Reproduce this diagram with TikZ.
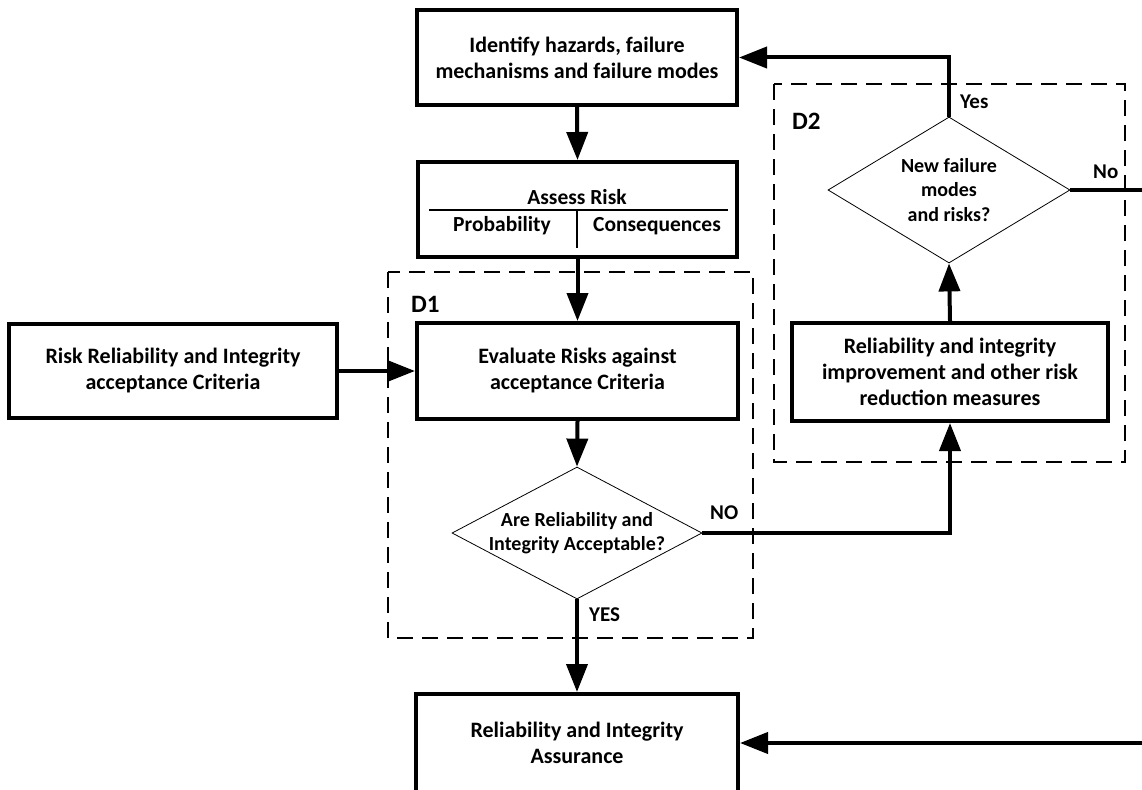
\documentclass[tikz,border=0pt]{standalone}
\usepackage{fontspec}
\setmainfont{Carlito}
\usetikzlibrary{shapes.geometric,arrows.meta,shadows}
\tikzset{
  x=1pt, y=-1pt,
  proc/.style={draw, line width=4pt, fill=white, align=center, inner sep=0pt,
    font=\fontsize{22}{26}\selectfont\bfseries,
    drop shadow={shadow xshift=2pt, shadow yshift=-2pt, fill=black, opacity=0.18}},
  dia/.style={draw, diamond, line width=0.8pt, fill=white, inner sep=0pt},
  diatext/.style={align=center, inner sep=0pt, font=\fontsize{20}{24.5}\selectfont\bfseries},
  flow/.style={line width=4pt, -{Triangle[length=28pt, width=21pt]}},
  group/.style={draw, line width=2.6pt, dash pattern=on 16pt off 9pt},
  tag/.style={font=\fontsize{21}{24}\selectfont\bfseries, inner sep=0pt},
  grouptag/.style={font=\fontsize{25}{28}\selectfont\bfseries, inner sep=0pt},
  celltext/.style={font=\fontsize{21.5}{24}\selectfont\bfseries, inner sep=0pt}
}
\begin{document}
\begin{tikzpicture}
\useasboundingbox (0,0) rectangle (1142,789);
\clip (0,0) rectangle (1142,789);

% dashed groupings
\draw[group] (388,272) rectangle (753,638);
\draw[group] (774,84) rectangle (1125,462);
\node[grouptag, anchor=west] (d1lab) at (411,304) {D1};
\node[grouptag, anchor=west] (d2lab) at (792,121) {D2};

% process boxes
\node[proc, minimum width=320pt, minimum height=95pt] (ident) at (577,57.5)
  {Identify hazards, failure\\mechanisms and failure modes};
\node[proc, minimum width=319pt, minimum height=95pt] (assess) at (577.5,209.5) {};
\node[proc, minimum width=328pt, minimum height=94pt] (crit) at (173,371)
  {Risk Reliability and Integrity\\acceptance Criteria};
\node[proc, minimum width=321pt, minimum height=96pt] (evalr) at (577.5,371)
  {Evaluate Risks against\\acceptance Criteria};
\node[proc, minimum width=316pt, minimum height=98pt] (improve) at (950,372)
  {Reliability and integrity\\improvement and other risk\\reduction measures};
\node[proc, minimum width=322pt, minimum height=98pt] (assure) at (577,743)
  {Reliability and Integrity\\Assurance};

% table inside the risk assessment box
\node[celltext] (assesst) at (577,197) {Assess Risk};
\node[celltext] (prob) at (502,226) {Probability};
\node[celltext] (cons) at (657,226) {Consequences};
\draw[line width=1.6pt] (429,210) -- (728,210);
\draw[line width=1.6pt] (577,210) -- (577,248);

% decisions
\node[dia, minimum width=250pt, minimum height=132pt] (dec1) at (577,533) {};
\node[diatext] (dec1t) at (dec1) {Are Reliability and\\Integrity Acceptable?};
\node[dia, minimum width=242pt, minimum height=146pt] (dec2) at (949,190) {};
\node[diatext] (dec2t) at (dec2) {New failure\\modes\\and risks?};

% connectors
\draw[flow] (ident.south) -- (assess.north);
\draw[flow] (assess.south) -- (evalr.north);
\draw[flow] (crit.east) -- (evalr.west);
\draw[flow] (evalr.south) -- (dec1.north);
\draw[flow] (dec1.south) -- (assure.north);
\draw[flow] (dec1.east) -| (improve.south);
\draw[flow] (improve.north) -- (dec2.south);
\draw[flow] (dec2.north) |- (ident.east);
\coordinate (offright) at (1170,190);
\draw[flow] (dec2.east) -- (offright) |- (assure.east);

% branch labels
\node[tag, anchor=west] (yes1) at (589,615) {YES};
\node[tag, anchor=west] (no1) at (710,513) {NO};
\node[tag, anchor=west] (yes2) at (960,102) {Yes};
\node[tag, anchor=west] (no2) at (1093,172) {No};
\end{tikzpicture}
\end{document}
